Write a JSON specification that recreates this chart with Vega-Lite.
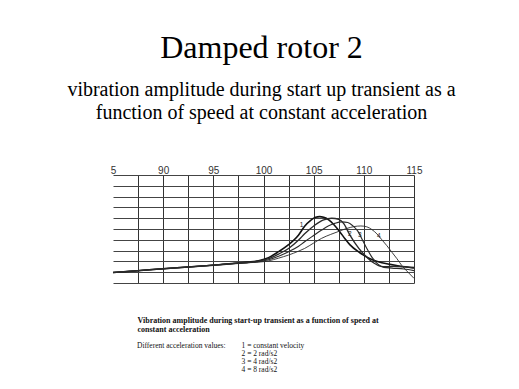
{
  "$schema": "https://vega.github.io/schema/vega-lite/v6.json",
  "width": 301,
  "height": 108,
  "autosize": {"type": "none"},
  "padding": {"left": 113, "top": 175, "right": 105, "bottom": 106},
  "background": "white",
  "config": {"view": {"stroke": null}},
  "title": {
    "text": "Damped rotor 2",
    "subtitle": ["vibration amplitude during start up transient as a", "function of speed at constant acceleration"],
    "font": "Liberation Serif",
    "fontSize": 32,
    "fontWeight": "normal",
    "color": "#000",
    "subtitleFont": "Liberation Serif",
    "subtitleFontSize": 20,
    "subtitleFontWeight": "normal",
    "subtitleColor": "#000",
    "subtitleLineHeight": 23,
    "subtitlePadding": 15,
    "anchor": "middle",
    "dx": -2,
    "offset": 41
  },
  "datasets": {
    "curves": [
      {"speed": 85, "amp": 0.97, "series": "1 = constant velocity"},
      {"speed": 87.5, "amp": 1.14, "series": "1 = constant velocity"},
      {"speed": 90, "amp": 1.32, "series": "1 = constant velocity"},
      {"speed": 92.5, "amp": 1.48, "series": "1 = constant velocity"},
      {"speed": 95, "amp": 1.65, "series": "1 = constant velocity"},
      {"speed": 97.5, "amp": 1.84, "series": "1 = constant velocity"},
      {"speed": 98.5, "amp": 1.93, "series": "1 = constant velocity"},
      {"speed": 99.5, "amp": 2.06, "series": "1 = constant velocity"},
      {"speed": 100.5, "amp": 2.35, "series": "1 = constant velocity"},
      {"speed": 101.5, "amp": 2.9, "series": "1 = constant velocity"},
      {"speed": 102.5, "amp": 3.55, "series": "1 = constant velocity"},
      {"speed": 103.5, "amp": 4.45, "series": "1 = constant velocity"},
      {"speed": 104.1, "amp": 5.25, "series": "1 = constant velocity"},
      {"speed": 104.7, "amp": 5.8, "series": "1 = constant velocity"},
      {"speed": 105.2, "amp": 6.08, "series": "1 = constant velocity"},
      {"speed": 105.6, "amp": 6.15, "series": "1 = constant velocity"},
      {"speed": 106.0, "amp": 6.08, "series": "1 = constant velocity"},
      {"speed": 106.5, "amp": 5.85, "series": "1 = constant velocity"},
      {"speed": 107.0, "amp": 5.42, "series": "1 = constant velocity"},
      {"speed": 107.6, "amp": 4.75, "series": "1 = constant velocity"},
      {"speed": 108.1, "amp": 4.12, "series": "1 = constant velocity"},
      {"speed": 108.6, "amp": 3.55, "series": "1 = constant velocity"},
      {"speed": 109.6, "amp": 2.8, "series": "1 = constant velocity"},
      {"speed": 110.9, "amp": 2.13, "series": "1 = constant velocity"},
      {"speed": 111.8, "amp": 1.88, "series": "1 = constant velocity"},
      {"speed": 112.6, "amp": 1.73, "series": "1 = constant velocity"},
      {"speed": 113.5, "amp": 1.58, "series": "1 = constant velocity"},
      {"speed": 115, "amp": 1.42, "series": "1 = constant velocity"},

      {"speed": 85, "amp": 0.97, "series": "2 = 2 rad/s2"},
      {"speed": 87.5, "amp": 1.14, "series": "2 = 2 rad/s2"},
      {"speed": 90, "amp": 1.32, "series": "2 = 2 rad/s2"},
      {"speed": 92.5, "amp": 1.48, "series": "2 = 2 rad/s2"},
      {"speed": 95, "amp": 1.65, "series": "2 = 2 rad/s2"},
      {"speed": 97.5, "amp": 1.84, "series": "2 = 2 rad/s2"},
      {"speed": 98.5, "amp": 1.91, "series": "2 = 2 rad/s2"},
      {"speed": 99.5, "amp": 2.02, "series": "2 = 2 rad/s2"},
      {"speed": 100.5, "amp": 2.25, "series": "2 = 2 rad/s2"},
      {"speed": 101.5, "amp": 2.68, "series": "2 = 2 rad/s2"},
      {"speed": 102.5, "amp": 3.2, "series": "2 = 2 rad/s2"},
      {"speed": 103.5, "amp": 3.98, "series": "2 = 2 rad/s2"},
      {"speed": 104.1, "amp": 4.55, "series": "2 = 2 rad/s2"},
      {"speed": 105.1, "amp": 5.35, "series": "2 = 2 rad/s2"},
      {"speed": 106.0, "amp": 5.85, "series": "2 = 2 rad/s2"},
      {"speed": 106.8, "amp": 6.0, "series": "2 = 2 rad/s2"},
      {"speed": 107.5, "amp": 5.9, "series": "2 = 2 rad/s2"},
      {"speed": 108.0, "amp": 5.5, "series": "2 = 2 rad/s2"},
      {"speed": 108.6, "amp": 4.45, "series": "2 = 2 rad/s2"},
      {"speed": 109.5, "amp": 3.2, "series": "2 = 2 rad/s2"},
      {"speed": 110.4, "amp": 2.3, "series": "2 = 2 rad/s2"},
      {"speed": 111.0, "amp": 1.85, "series": "2 = 2 rad/s2"},
      {"speed": 111.6, "amp": 1.57, "series": "2 = 2 rad/s2"},
      {"speed": 112.2, "amp": 1.5, "series": "2 = 2 rad/s2"},
      {"speed": 113.0, "amp": 1.55, "series": "2 = 2 rad/s2"},
      {"speed": 114.0, "amp": 1.5, "series": "2 = 2 rad/s2"},
      {"speed": 115, "amp": 1.38, "series": "2 = 2 rad/s2"},

      {"speed": 85, "amp": 0.97, "series": "3 = 4 rad/s2"},
      {"speed": 87.5, "amp": 1.14, "series": "3 = 4 rad/s2"},
      {"speed": 90, "amp": 1.32, "series": "3 = 4 rad/s2"},
      {"speed": 92.5, "amp": 1.48, "series": "3 = 4 rad/s2"},
      {"speed": 95, "amp": 1.65, "series": "3 = 4 rad/s2"},
      {"speed": 97.5, "amp": 1.84, "series": "3 = 4 rad/s2"},
      {"speed": 98.5, "amp": 1.89, "series": "3 = 4 rad/s2"},
      {"speed": 99.5, "amp": 1.97, "series": "3 = 4 rad/s2"},
      {"speed": 100.5, "amp": 2.15, "series": "3 = 4 rad/s2"},
      {"speed": 101.5, "amp": 2.48, "series": "3 = 4 rad/s2"},
      {"speed": 102.5, "amp": 2.9, "series": "3 = 4 rad/s2"},
      {"speed": 103.5, "amp": 3.4, "series": "3 = 4 rad/s2"},
      {"speed": 104.1, "amp": 3.82, "series": "3 = 4 rad/s2"},
      {"speed": 105.0, "amp": 4.4, "series": "3 = 4 rad/s2"},
      {"speed": 105.8, "amp": 4.9, "series": "3 = 4 rad/s2"},
      {"speed": 106.5, "amp": 5.3, "series": "3 = 4 rad/s2"},
      {"speed": 107.1, "amp": 5.52, "series": "3 = 4 rad/s2"},
      {"speed": 107.8, "amp": 5.66, "series": "3 = 4 rad/s2"},
      {"speed": 108.4, "amp": 5.6, "series": "3 = 4 rad/s2"},
      {"speed": 108.9, "amp": 5.3, "series": "3 = 4 rad/s2"},
      {"speed": 109.4, "amp": 4.8, "series": "3 = 4 rad/s2"},
      {"speed": 109.8, "amp": 4.1, "series": "3 = 4 rad/s2"},
      {"speed": 110.3, "amp": 3.2, "series": "3 = 4 rad/s2"},
      {"speed": 110.8, "amp": 2.4, "series": "3 = 4 rad/s2"},
      {"speed": 111.4, "amp": 1.75, "series": "3 = 4 rad/s2"},
      {"speed": 112.0, "amp": 1.45, "series": "3 = 4 rad/s2"},
      {"speed": 112.8, "amp": 1.38, "series": "3 = 4 rad/s2"},
      {"speed": 114.0, "amp": 1.3, "series": "3 = 4 rad/s2"},
      {"speed": 115, "amp": 1.15, "series": "3 = 4 rad/s2"},

      {"speed": 85, "amp": 0.97, "series": "4 = 8 rad/s2"},
      {"speed": 87.5, "amp": 1.14, "series": "4 = 8 rad/s2"},
      {"speed": 90, "amp": 1.32, "series": "4 = 8 rad/s2"},
      {"speed": 92.5, "amp": 1.48, "series": "4 = 8 rad/s2"},
      {"speed": 95, "amp": 1.65, "series": "4 = 8 rad/s2"},
      {"speed": 97.5, "amp": 1.84, "series": "4 = 8 rad/s2"},
      {"speed": 98.5, "amp": 1.88, "series": "4 = 8 rad/s2"},
      {"speed": 99.5, "amp": 1.93, "series": "4 = 8 rad/s2"},
      {"speed": 100.5, "amp": 2.05, "series": "4 = 8 rad/s2"},
      {"speed": 101.5, "amp": 2.3, "series": "4 = 8 rad/s2"},
      {"speed": 102.5, "amp": 2.59, "series": "4 = 8 rad/s2"},
      {"speed": 103.5, "amp": 2.95, "series": "4 = 8 rad/s2"},
      {"speed": 104.1, "amp": 3.2, "series": "4 = 8 rad/s2"},
      {"speed": 105.0, "amp": 3.7, "series": "4 = 8 rad/s2"},
      {"speed": 105.8, "amp": 4.14, "series": "4 = 8 rad/s2"},
      {"speed": 106.7, "amp": 4.5, "series": "4 = 8 rad/s2"},
      {"speed": 107.5, "amp": 4.78, "series": "4 = 8 rad/s2"},
      {"speed": 108.3, "amp": 5.05, "series": "4 = 8 rad/s2"},
      {"speed": 109.0, "amp": 5.22, "series": "4 = 8 rad/s2"},
      {"speed": 109.7, "amp": 5.28, "series": "4 = 8 rad/s2"},
      {"speed": 110.3, "amp": 5.2, "series": "4 = 8 rad/s2"},
      {"speed": 110.8, "amp": 4.95, "series": "4 = 8 rad/s2"},
      {"speed": 111.3, "amp": 4.55, "series": "4 = 8 rad/s2"},
      {"speed": 111.8, "amp": 4.0, "series": "4 = 8 rad/s2"},
      {"speed": 112.3, "amp": 3.45, "series": "4 = 8 rad/s2"},
      {"speed": 112.8, "amp": 2.85, "series": "4 = 8 rad/s2"},
      {"speed": 113.3, "amp": 2.25, "series": "4 = 8 rad/s2"},
      {"speed": 113.8, "amp": 1.6, "series": "4 = 8 rad/s2"},
      {"speed": 114.4, "amp": 1.0, "series": "4 = 8 rad/s2"},
      {"speed": 115, "amp": 0.43, "series": "4 = 8 rad/s2"}
    ],
    "curveLabels": [
      {"speed": 103.8, "amp": 5.35, "label": "1"},
      {"speed": 108.6, "amp": 4.5, "label": "2"},
      {"speed": 109.6, "amp": 4.4, "label": "3"},
      {"speed": 111.5, "amp": 4.35, "label": "4"}
    ]
  },
  "resolve": {"axis": {"x": "independent"}},
  "layer": [
    {
      "data": {"name": "curves"},
      "mark": {"type": "line", "interpolate": "monotone"},
      "encoding": {
        "x": {
          "field": "speed",
          "type": "quantitative",
          "scale": {"domain": [85, 115], "nice": false, "zero": false},
          "axis": {
            "orient": "top",
            "values": [85, 87.5, 90, 92.5, 95, 97.5, 100, 102.5, 105, 107.5, 110, 112.5, 115],
            "labelExpr": "datum.value == 85 ? '5' : (datum.value % 5 == 0 ? datum.label : '')",
            "labelFont": "Liberation Sans",
            "labelFontSize": 10,
            "labelColor": "#333",
            "labelPadding": 0,
            "labelFlush": false,
            "labelOverlap": false,
            "ticks": false,
            "domain": false,
            "grid": true,
            "gridColor": "#333",
            "gridWidth": 1,
            "gridOpacity": {"condition": {"test": "datum.value == 85", "value": 0}, "value": 1},
            "title": null
          }
        },
        "y": {
          "field": "amp",
          "type": "quantitative",
          "scale": {"domain": [0, 10], "nice": false},
          "axis": {
            "values": [0, 1, 2, 3, 4, 5, 6, 7, 8, 9, 10],
            "labels": false,
            "ticks": false,
            "domain": false,
            "grid": true,
            "gridColor": "#444",
            "gridWidth": 1,
            "title": null
          }
        },
        "color": {
          "field": "series",
          "type": "nominal",
          "scale": {"range": ["#111", "#2a2a2a", "#2a2a2a", "#2a2a2a"]},
          "legend": {
            "orient": "none",
            "legendX": 24,
            "legendY": 167,
            "direction": "vertical",
            "title": "Different acceleration values:",
            "titleOrient": "left",
            "titleAnchor": "start",
            "titleFont": "Liberation Serif",
            "titleFontSize": 7.5,
            "titleFontWeight": "normal",
            "titleColor": "#111",
            "titlePadding": 8,
            "labelFont": "Liberation Serif",
            "labelFontSize": 7.5,
            "labelColor": "#111",
            "labelOffset": 0,
            "symbolSize": 0,
            "symbolStrokeWidth": 0,
            "symbolOpacity": 0,
            "rowPadding": -1
          }
        },
        "strokeWidth": {
          "field": "series",
          "type": "nominal",
          "scale": {"range": [1.6, 0.9, 0.9, 0.9]},
          "legend": null
        }
      }
    },
    {
      "data": {"name": "curveLabels"},
      "mark": {"type": "text", "font": "Liberation Sans", "fontSize": 6.5, "color": "#222"},
      "encoding": {
        "x": {
          "field": "speed",
          "type": "quantitative",
          "axis": {
            "orient": "bottom",
            "labels": false,
            "ticks": false,
            "domain": false,
            "grid": false,
            "title": ["Vibration amplitude during start-up transient as a function of speed at", "constant acceleration"],
            "titleFont": "Liberation Serif",
            "titleFontWeight": "bold",
            "titleFontSize": 8,
            "titleColor": "#111",
            "titleAnchor": "start",
            "titleAlign": "left",
            "titleBaseline": "top",
            "titleX": 24,
            "titleY": 33,
            "titleLineHeight": 9
          }
        },
        "y": {
          "field": "amp",
          "type": "quantitative",
          "axis": {
            "values": [0, 1, 2, 3, 4, 5, 6, 7, 8, 9, 10],
            "labels": false,
            "ticks": false,
            "domain": false,
            "grid": true,
            "gridColor": "#444",
            "gridWidth": 1,
            "title": null
          }
        },
        "text": {"field": "label"}
      }
    }
  ]
}
